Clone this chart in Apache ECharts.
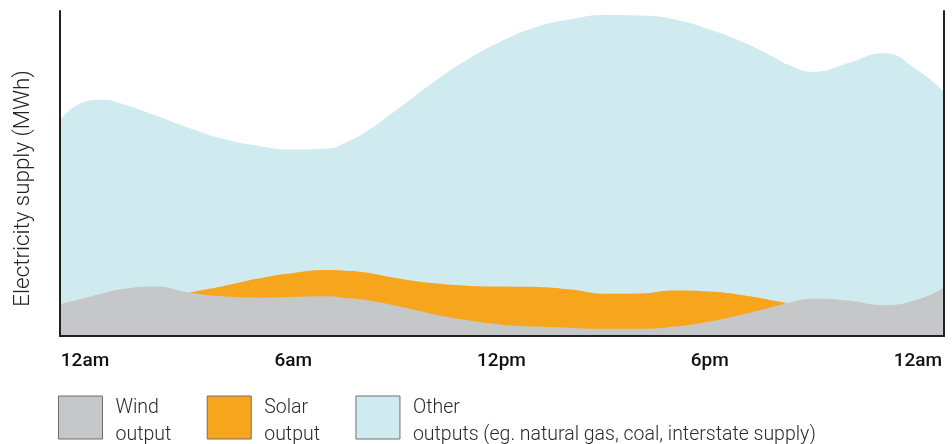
<!DOCTYPE html>
<html>
<head>
<meta charset="utf-8">
<script src="https://cdn.jsdelivr.net/npm/echarts@6/dist/echarts.min.js"></script>
<style>
  html, body { margin: 0; padding: 0; background: #ffffff; }
  #chart { width: 952px; height: 444px; }
</style>
</head>
<body>
<div id="chart"></div>
<script>
// Hour of day for each sample (0 = midnight, 24 = next midnight)
const hours = [-0.72, 0, 0.5, 1, 2, 3, 4, 5, 6, 7, 7.5, 8, 9, 10, 11, 12, 13, 14, 15, 16, 17, 18, 19, 20, 20.2, 21, 22, 23, 24, 24.75];

// Supply by source (relative MWh); solar is only present during daylight
const windOutput  = [9.8, 11.7, 13.1, 14.3, 15.2, 13.4, 12.2, 11.8, 12.0, 12.2, 11.7, 11.2, 9.2, 6.8, 4.9, 3.5, 2.9, 2.5, 2.2, 2.2, 2.9, 4.5, 6.8, 9.5, 10.1, 11.5, 10.9, 9.5, 11.2, 14.9];
const solarOutput = [null, null, null, null, null, 0, 3.2, 5.9, 7.4, 8.1, 8.4, 8.5, 8.6, 9.5, 10.6, 11.7, 12.2, 11.8, 10.8, 10.9, 11.1, 9.2, 5.7, 1.1, 0, null, null, null, null, null];
const otherOutput = [56.7, 60.4, 59.6, 57.4, 52.8, 50.6, 45.2, 40.8, 38.0, 37.4, 39.4, 42.5, 52.0, 61.5, 69.4, 75.5, 80.0, 83.2, 85.8, 85.5, 83.4, 80.6, 77.7, 74.3, 73.6, 69.8, 73.1, 77.5, 70.5, 60.2];

// Axis tick positions and their labels
const tickHours  = [0, 6, 12, 18, 24];
const tickLabels = ['12am', '6am', '12pm', '6pm', '12am'];

const seriesNames = ['Wind\noutput', 'Solar\noutput', 'Other\noutputs (eg. natural gas, coal, interstate supply)'];
const colors = { wind: '#c6c7c8', solar: '#f8a51e', other: '#cfebf0' };

// Cumulative tops: each layer sits on the ones below it
const windTop  = hours.map((h, i) => [h, windOutput[i]]);
const solarTop = hours.map((h, i) => [h, solarOutput[i] == null ? null : windOutput[i] + solarOutput[i]]);
const otherTop = hours.map((h, i) => [h, windOutput[i] + (solarOutput[i] || 0) + otherOutput[i]]);

function layer(name, data, color, z) {
  return {
    name: name,
    type: 'line',
    data: data,
    smooth: 0.5,
    symbol: 'none',
    showSymbol: false,
    connectNulls: false,
    color: color,
    lineStyle: { width: 0, color: color },
    areaStyle: { color: color, opacity: 1 },
    itemStyle: { color: color },
    z: z,
    silent: true
  };
}

const axisLineStyle = { color: '#231f20', width: 2 };
const legendFont = { fontFamily: 'Roboto', fontWeight: 300, fontSize: 19.5, color: '#2a2a2a' };

const chart = echarts.init(document.getElementById('chart'), null, { renderer: 'canvas' });
chart.setOption({
  animation: false,
  backgroundColor: '#ffffff',
  grid: { left: 60, right: 8, top: 11, bottom: 108, containLabel: false },
  xAxis: {
    type: 'value',
    min: -0.72,
    max: 24.75,
    z: 10,
    splitLine: { show: false },
    axisTick: { show: false },
    axisLine: { show: true, onZero: false, lineStyle: axisLineStyle },
    axisLabel: {
      customValues: tickHours,
      formatter: v => tickLabels[tickHours.indexOf(v)],
      color: '#111111',
      fontFamily: 'Roboto',
      fontWeight: 500,
      fontSize: 19,
      margin: 16
    }
  },
  yAxis: [{
    type: 'value',
    min: 0,
    max: 100,
    z: 10,
    name: 'Electricity supply (MWh)',
    nameLocation: 'middle',
    nameRotate: 90,
    nameGap: 26,
    nameTextStyle: {
      color: '#222222',
      fontFamily: 'Roboto',
      fontWeight: 300,
      fontSize: 22.4,
      padding: [0, 30, 0, 0]
    },
    splitLine: { show: false },
    axisTick: { show: false },
    axisLabel: { show: false },
    axisLine: { show: true, onZero: false, lineStyle: axisLineStyle }
  }, {
    type: 'value',
    position: 'right',
    min: 0,
    max: 100,
    z: 10,
    splitLine: { show: false },
    axisTick: { show: false },
    axisLabel: { show: false },
    axisLine: { show: true, onZero: false, lineStyle: axisLineStyle }
  }],
  legend: {
    data: seriesNames,
    left: 58,
    top: 390,
    padding: 0,
    icon: 'rect',
    itemWidth: 44,
    itemHeight: 43,
    itemGap: 35.5,
    selectedMode: false,
    itemStyle: { borderColor: '#6f6f6f', borderWidth: 1 },
    // a thin spacer line above the two text lines nudges the label down beside the swatch
    formatter: name => '{s| }\n' + name.split('\n').map(l => '{t|' + l + '}').join('\n'),
    textStyle: {
      ...legendFont,
      padding: [0, 0, 0, 8],
      rich: {
        s: { fontSize: 1, lineHeight: 9 },
        t: { ...legendFont, lineHeight: 27 }
      }
    }
  },
  series: [
    layer(seriesNames[2], otherTop, colors.other, 1),
    layer(seriesNames[1], solarTop, colors.solar, 2),
    layer(seriesNames[0], windTop, colors.wind, 3)
  ]
});
</script>
</body>
</html>
